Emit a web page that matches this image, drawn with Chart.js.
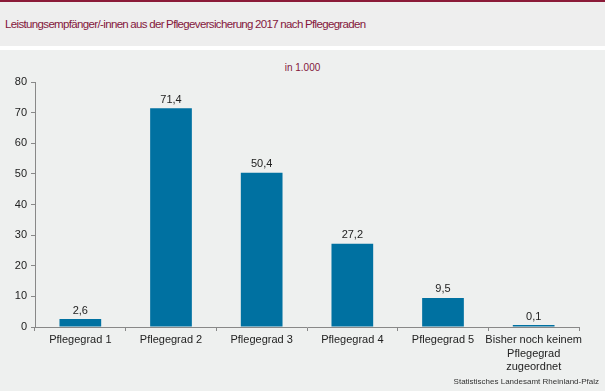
<!DOCTYPE html>
<html lang="de">
<head>
<meta charset="utf-8">
<script src="https://cdn.jsdelivr.net/npm/chart.js@4"></script>
<style>
  body { margin: 0; width: 605px; height: 391px; overflow: hidden; font-family: "Liberation Sans", Arial, sans-serif; background: #fff; }
  #topline { height: 2px; background: #8b1a38; }
  #head { height: 44px; background: #eeeeee; position: relative; }
  #head h1 { position: absolute; left: 5px; top: 16px; margin: 0; font-size: 11.5px; font-weight: normal; color: #84173c; letter-spacing: -0.65px; word-spacing: -0.3px; }
  #wrap { position: absolute; top: 50px; left: 0; width: 605px; height: 341px; background: #eef0ef; }
  #unit { position: absolute; top: 12px; left: 0; width: 605px; text-align: center; font-size: 10px; color: #84173c; }
  #source { position: absolute; right: 6px; bottom: 5px; font-size: 8px; color: #333; }
  canvas { position: absolute; top: 0; left: 0; }
</style>
</head>
<body>
<div id="topline"></div>
<div id="head"><h1>Leistungsempfänger/-innen aus der Pflegeversicherung 2017 nach Pflegegraden</h1></div>
<div id="wrap">
  <div id="unit">in 1.000</div>
  <canvas id="chart" width="605" height="341"></canvas>
  <div id="source">Statistisches Landesamt Rheinland-Pfalz</div>
</div>
<script>
const categories = [
  "Pflegegrad 1",
  "Pflegegrad 2",
  "Pflegegrad 3",
  "Pflegegrad 4",
  "Pflegegrad 5",
  ["Bisher noch keinem", "Pflegegrad", "zugeordnet"],
];
const values = [2.6, 71.4, 50.4, 27.2, 9.5, 0.1];
const yTicks = [0, 10, 20, 30, 40, 50, 60, 70, 80];

const fmt = (v) => v.toFixed(1).replace(".", ",");

const valueLabels = {
  id: "valueLabels",
  afterDatasetsDraw(chart) {
    const { ctx } = chart;
    const meta = chart.getDatasetMeta(0);
    ctx.save();
    ctx.font = "11px 'Liberation Sans', Arial, sans-serif";
    ctx.fillStyle = "#222";
    ctx.textAlign = "center";
    ctx.textBaseline = "bottom";
    meta.data.forEach((bar, i) => {
      ctx.fillText(fmt(values[i]), bar.x, bar.y - 3);
    });
    ctx.restore();
  },
};

new Chart(document.getElementById("chart"), {
  type: "bar",
  data: {
    labels: categories,
    datasets: [
      {
        data: values,
        backgroundColor: "#0071a1",
        barPercentage: 0.46,
        categoryPercentage: 1,
        minBarLength: 2,
      },
    ],
  },
  options: {
    responsive: false,
    animation: false,
    layout: { padding: { top: 32, right: 26, left: 0, bottom: 0 } },
    plugins: { legend: { display: false }, tooltip: { enabled: false } },
    scales: {
      x: {
        afterFit: (s) => { s.height = 64; },
        grid: { drawOnChartArea: false, tickLength: 4, color: "#888" },
        border: { color: "#888" },
        ticks: {
          color: "#222",
          font: { family: "'Liberation Sans', Arial, sans-serif", size: 11, lineHeight: 1.25 },
          padding: 2,
          maxRotation: 0,
          autoSkip: false,
        },
      },
      y: {
        min: 0,
        max: 80,
        afterFit: (s) => { s.width = 35; },
        afterBuildTicks: (s) => { s.ticks = yTicks.map((v) => ({ value: v })); },
        grid: { drawOnChartArea: false, tickLength: 4, color: "#888" },
        border: { color: "#888" },
        ticks: {
          color: "#222",
          font: { family: "'Liberation Sans', Arial, sans-serif", size: 11 },
          padding: 4,
        },
      },
    },
  },
  plugins: [valueLabels],
});
</script>
</body>
</html>
